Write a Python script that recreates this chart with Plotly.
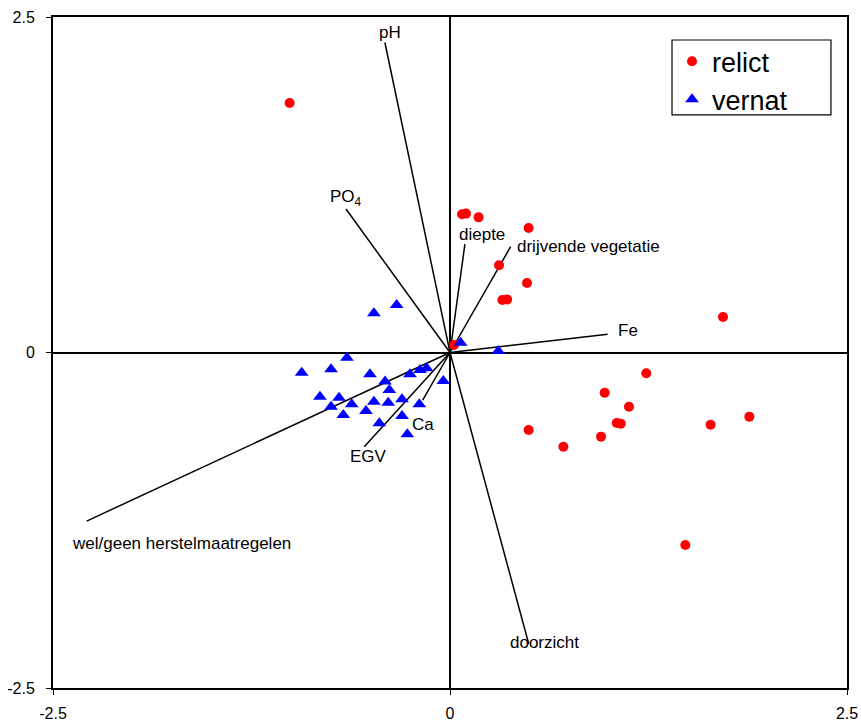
import plotly.graph_objects as go

# Sample scores
relict_x = [-1.01, 0.076, 0.101, 0.18, 0.495, 0.309, 0.485, 0.33, 0.36, 0.025,
            1.236, 0.974, 1.127, 1.05, 1.075, 0.495, 0.714, 0.951, 1.641, 1.885, 1.482, 1.719]
relict_y = [1.859, 1.03, 1.035, 1.007, 0.928, 0.65, 0.518, 0.391, 0.395, 0.056,
            -0.155, -0.30, -0.404, -0.525, -0.53, -0.578, -0.702, -0.627, -0.538, -0.478, -1.434, 0.265]

vernat_x = [-0.479, -0.336, 0.067, 0.304, -0.934, -0.749, -0.649, -0.504, -0.409, -0.382,
            -0.252, -0.189, -0.147, -0.042, -0.819, -0.699, -0.749, -0.619, -0.672, -0.479,
            -0.529, -0.389, -0.302, -0.302, -0.193, -0.445, -0.269]
vernat_y = [0.292, 0.354, 0.073, 0.011, -0.15, -0.125, -0.039, -0.163, -0.217, -0.28,
            -0.163, -0.13, -0.118, -0.212, -0.329, -0.337, -0.404, -0.386, -0.466, -0.367,
            -0.436, -0.374, -0.349, -0.473, -0.386, -0.528, -0.61]

# Environmental variable arrows
env_names = ["pH", "PO<sub>4</sub>", "diepte", "drijvende vegetatie", "Fe",
             "Ca", "EGV", "wel/geen herstelmaatregelen", "doorzicht"]
env_x = [-0.41, -0.655, 0.094, 0.382, 0.993, -0.172, -0.54, -2.288, 0.496]
env_y = [2.31, 1.069, 0.808, 0.789, 0.136, -0.354, -0.702, -1.256, -2.172]

# label placement (layout only)
lab_x = [-0.378, -0.655, 0.044, 0.409, 1.121, -0.167, -0.512, -2.393, 0.598]
lab_y = [2.381, 1.151, 0.876, 0.788, 0.162, -0.54, -0.776, -1.42, -2.164]
lab_anchor = ["center", "center", "left", "left", "center", "center", "center", "left", "center"]

tick_vals = [-2.5, 0, 2.5]
tick_text = ["-2.5", "0", "2.5"]

FONT = "Liberation Sans, Arial, sans-serif"

fig = go.Figure()

for i in range(len(env_names)):
    fig.add_trace(go.Scatter(x=[0, env_x[i]], y=[0, env_y[i]], mode="lines",
                             line=dict(color="black", width=1.5), showlegend=False,
                             hoverinfo="skip"))
    fig.add_annotation(x=lab_x[i], y=lab_y[i], text=env_names[i],
                       showarrow=False, xanchor=lab_anchor[i], yanchor="middle",
                       font=dict(family=FONT, size=17, color="black"))

fig.add_trace(go.Scatter(x=relict_x, y=relict_y, mode="markers", name="relict",
                         marker=dict(symbol="circle", color="red", size=10)))
fig.add_trace(go.Scatter(x=vernat_x, y=vernat_y, mode="markers", name="vernat",
                         marker=dict(symbol="triangle-up", color="blue", size=12)))

axis_common = dict(range=[-2.5, 2.5], tickvals=tick_vals, ticktext=tick_text,
                   showgrid=False, zeroline=True, zerolinecolor="black", zerolinewidth=2,
                   showline=True, linecolor="black", linewidth=2, mirror=True,
                   ticks="outside", ticklen=5, tickcolor="black", automargin=False,
                   tickfont=dict(family=FONT, size=16, color="black"))

fig.update_xaxes(**axis_common, ticklabelstandoff=5)
fig.update_yaxes(**axis_common, ticklabelstandoff=8)

# legend frame
fig.add_shape(type="rect", xref="paper", yref="paper",
              x0=0.7796, x1=0.9798, y0=0.854, y1=0.9657,
              line=dict(color="black", width=1.2), fillcolor="white", layer="below")

fig.update_layout(
    width=861, height=724,
    margin=dict(l=53, r=14, t=17, b=36),
    plot_bgcolor="white", paper_bgcolor="white",
    legend=dict(x=0.7796, y=0.970, xanchor="left", yanchor="top",
                borderwidth=0, bgcolor="rgba(0,0,0,0)",
                font=dict(family=FONT, size=27, color="black"),
                itemsizing="trace", tracegroupgap=0),
)

fig.write_html("out.html")
